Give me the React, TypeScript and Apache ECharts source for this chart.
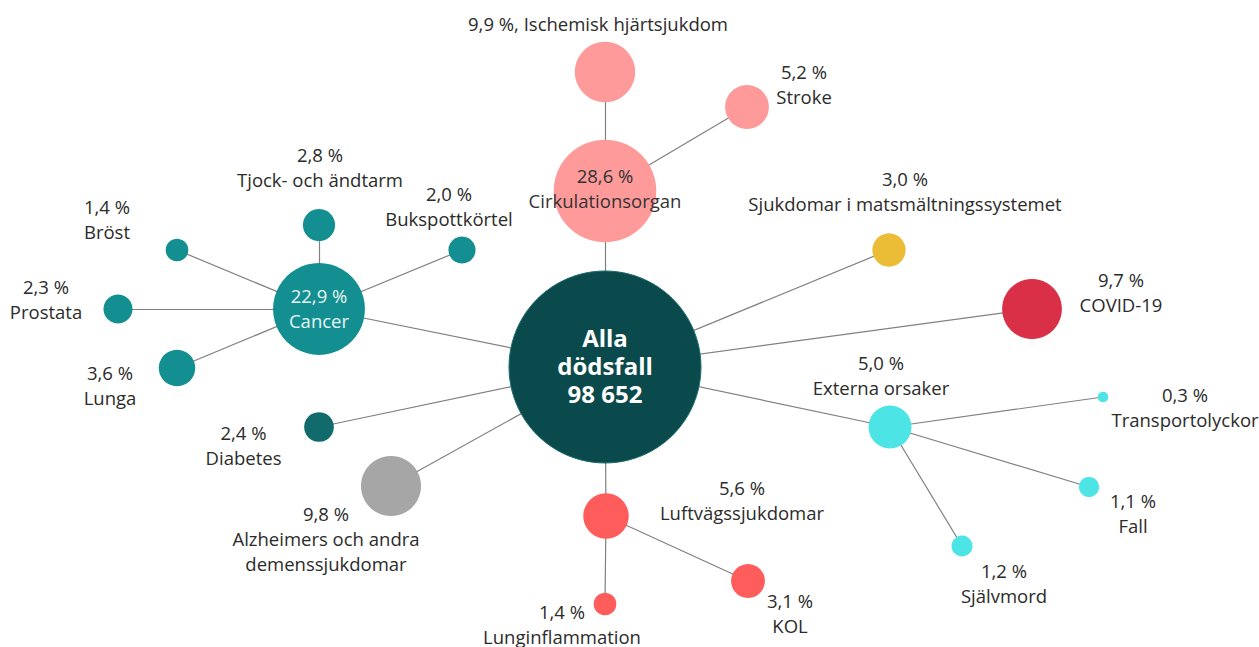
import { useEffect, useRef } from "react";
import * as echarts from "echarts";

// ---- data ----
const NODE_NAMES = [
  "Alla dödsfall",
  "Cirkulationsorgan",
  "Ischemisk hjärtsjukdom",
  "Stroke",
  "Cancer",
  "Tjock- och ändtarm",
  "Bukspottkörtel",
  "Bröst",
  "Prostata",
  "Lunga",
  "Diabetes",
  "Alzheimers och andra\ndemenssjukdomar",
  "Luftvägssjukdomar",
  "Lunginflammation",
  "KOL",
  "Sjukdomar i matsmältningssystemet",
  "COVID-19",
  "Externa orsaker",
  "Transportolyckor",
  "Fall",
  "Självmord",
];
const NODE_SHARES = [100, 28.6, 9.9, 5.2, 22.9, 2.8, 2.0, 1.4, 2.3, 3.6, 2.4, 9.8, 5.6, 1.4, 3.1, 3.0, 9.7, 5.0, 0.3, 1.1, 1.2];
const NODE_PARENTS = [-1, 0, 1, 1, 0, 4, 4, 4, 4, 4, 0, 0, 0, 12, 12, 0, 0, 0, 17, 17, 17];
const TOTAL_DEATHS = 98652;

// ---- layout & style (positions of node centres, label offsets) ----
const NODE_LAYOUT: [number, number, number, number][] = [
  [605, 367, 0, -2],
  [605, 191, 0, -3.5],
  [605, 72, -7, -49],
  [747, 107, 57, -23.5],
  [319, 309, 0, -1],
  [319, 225, 1, -58.5],
  [462, 250, -13, -44],
  [177, 250, -70, -31.5],
  [118, 309, -72, -10.5],
  [177, 368, -67, 17],
  [319, 427, -75.5, 17.5],
  [391, 486, -65, 52],
  [606, 516, 136, -16.5],
  [605, 604, -43, 19.5],
  [748, 581, 42, 31.5],
  [889, 250, 16, -59],
  [1032, 309, 89, -17],
  [890, 427, -9, -52.5],
  [1103, 397, 82, 9.5],
  [1089, 487, 44, 25.5],
  [962, 546, 42, 36.5],
];
const NODE_COLORS = [
  "#0b4a4c", "#fe9a9a", "#fe9a9a", "#fe9a9a",
  "#148f91", "#148f91", "#148f91", "#148f91", "#148f91", "#148f91",
  "#116b6c", "#a6a6a6",
  "#ff5c5c", "#ff5c5c", "#ff5c5c",
  "#ebbc35", "#d92f47",
  "#4de4e6", "#4de4e6", "#4de4e6", "#4de4e6",
];

const FONT = "'Open Sans', sans-serif";
const fmtPct = (v: number) => v.toFixed(1).replace(".", ",") + " %";
const fmtInt = (v: number) => String(v).replace(/\B(?=(\d{3})+(?!\d))/g, " ");

export default function App() {
  const ref = useRef<HTMLDivElement>(null);
  useEffect(() => {
    if (!ref.current) return;
    const chart = echarts.init(ref.current, undefined, { renderer: "svg" });
    const xs = NODE_LAYOUT.map((l) => l[0]);
    const ys = NODE_LAYOUT.map((l) => l[1]);
    const minX = Math.min(...xs), maxX = Math.max(...xs);
    const minY = Math.min(...ys), maxY = Math.max(...ys);

    const nodes = NODE_NAMES.map((name, i) => {
      const [x, y, dx, dy] = NODE_LAYOUT[i];
      let text: string;
      let color = "#2b2b2b";
      let fontWeight: any = "normal";
      let fontSize = 18.5;
      let lineHeight = 25;
      if (i === 0) {
        text = "Alla\ndödsfall\n" + fmtInt(TOTAL_DEATHS);
        color = "#ffffff";
        fontWeight = "bold";
        fontSize = 24;
        lineHeight = 28;
      } else if (i === 2) {
        text = fmtPct(NODE_SHARES[i]) + ", " + name;
      } else {
        text = fmtPct(NODE_SHARES[i]) + "\n" + name;
      }
      if (i === 4) color = "#e6f4f4";
      if (i === 1) color = "#333333";
      return {
        name: String(i),
        x,
        y,
        symbol: "circle",
        symbolSize: 19.2 * Math.sqrt(NODE_SHARES[i]),
        itemStyle: {
          color: NODE_COLORS[i],
          borderColor: i === 0 ? "#1f6f6e" : NODE_COLORS[i],
          borderWidth: i === 0 ? 1 : 0,
        },
        label: {
          show: true,
          position: "inside",
          offset: [dx, dy],
          formatter: text,
          color,
          fontFamily: FONT,
          fontSize,
          fontWeight,
          lineHeight,
          align: "center",
          verticalAlign: "middle",
        },
      };
    });

    const links = NODE_PARENTS.map((p, i) => ({ p, i }))
      .filter((e) => e.p >= 0)
      .map((e) => ({ source: String(e.p), target: String(e.i) }));

    chart.setOption({
      animation: false,
      backgroundColor: "#ffffff",
      series: [
        {
          type: "graph",
          layout: "none",
          roam: false,
          silent: true,
          left: minX,
          top: minY,
          width: maxX - minX,
          height: maxY - minY,
          data: nodes,
          links,
          lineStyle: { color: "#808080", width: 1.2, opacity: 1, curveness: 0 },
          emphasis: { disabled: true },
        },
      ],
    });
    return () => chart.dispose();
  }, []);
  return (
    <div
      ref={ref}
      style={{ position: "fixed", left: 0, top: 0, width: 1259, height: 647, background: "#fff" }}
    />
  );
}
